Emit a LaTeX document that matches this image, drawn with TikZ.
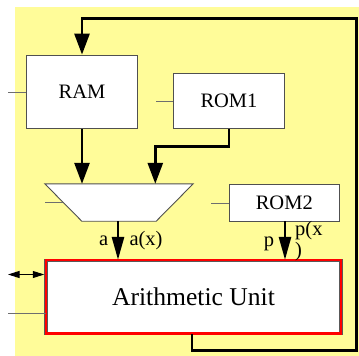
\documentclass[tikz,border=0pt]{standalone}
\usepackage{fontspec}
\setmainfont{Liberation Serif}
\usetikzlibrary{arrows.meta}
\definecolor{bgyellow}{RGB}{255,252,153}
\definecolor{boxgray}{RGB}{80,80,80}
\definecolor{stubgray}{RGB}{110,110,110}
\tikzset{
  unitbox/.style={draw=boxgray, line width=0.9pt, fill=white, inner sep=0pt,
    font=\fontsize{20.5}{21}\selectfont},
  aubox/.style={draw=gray!70!black, double=red, double distance=2.2pt, line width=0.45pt,
    fill=white, inner sep=0pt, font=\fontsize{25.6}{27}\selectfont},
  stub/.style={draw=stubgray, line width=0.9pt},
  bus/.style={draw=black, line width=2.7pt},
  bigarrow/.style={bus, -{Triangle[length=21pt,width=15pt]}},
  smallarrow/.style={bus, -{Triangle[length=23pt,width=12pt]}},
  lbl/.style={inner sep=0pt, font=\fontsize{20.5}{21}\selectfont},
}
\begin{document}
\begin{tikzpicture}[x=1pt,y=-1pt]
\useasboundingbox (0,0) rectangle (359,356);
\fill[bgyellow] (15,7) rectangle (359,356);

% nodes
\node[unitbox, minimum width=110.6pt, minimum height=73.7pt] (ram) at (82,91.9) {RAM};
\node[unitbox, minimum width=110.6pt, minimum height=55.4pt] (rom1) at (229,101) {ROM1};
\node[unitbox, minimum width=110pt, minimum height=36.7pt] (rom2) at (284.3,202.6) {ROM2};
\node[inner sep=0pt, minimum width=148pt, minimum height=37pt] (mux) at (119,202.5) {};
\draw[draw=boxgray, line width=0.9pt, fill=white]
  (mux.north west) -- (mux.north east) -- ([xshift=-37pt]mux.south east)
  -- ([xshift=37pt]mux.south west) -- cycle;
\node[aubox, minimum width=295pt, minimum height=73.5pt] (au) at (193.5,296.8) {Arithmetic Unit};

% stubs
\coordinate (ramin) at (8,92);
\coordinate (rom1in) at (156,101);
\coordinate (muxin) at (45,202);
\coordinate (muxsl) at (63,202);
\coordinate (rom2in) at (211,203);
\coordinate (auin) at (8,313.5);
\coordinate (auio) at (8,274.5);
\draw[stub] (ramin) -- (ram.west |- ramin);
\draw[stub] (rom1in) -- (rom1.west |- rom1in);
\draw[stub] (muxin) -- (muxsl);
\draw[stub] (rom2in) -- (rom2.west |- rom2in);
\draw[stub] (auin) -- (au.west |- auin);
\draw[line width=0.9pt, {Triangle[length=11.5pt,width=7pt]}-{Triangle[length=11.5pt,width=7pt]}]
  (auio) -- ([xshift=-1.5pt]au.west |- auio);

% buses
\coordinate (fbb) at (192,350.3);
\coordinate (fbr) at (356.6,350.3);
\coordinate (fbt) at (356.6,18.7);
\draw[bigarrow, line join=miter] ([xshift=-1.5pt]au.south) -- (fbb) -- (fbr) -- (fbt) -- (ram.north |- fbt) -- (ram.north);
\draw[bigarrow] (ram.south) -- (ram.south |- mux.north);
\coordinate (r1) at (155.3,146.6);
\draw[bigarrow, line join=miter] (rom1.south) |- (r1) -- (r1 |- mux.north);
\draw[smallarrow] ([xshift=-1pt]mux.south) -- ([xshift=-1pt]mux.south |- au.north);
\draw[smallarrow] ([xshift=0.7pt]rom2.south) -- ([xshift=0.7pt]rom2.south |- au.north);

% labels
\node[lbl, anchor=base east] (la) at (108.3,245) {a};
\node[lbl, anchor=base west] (lax) at (129.3,245) {a(x)};
\node[lbl, anchor=base east] (lp) at (274.3,246.5) {p};
\node[lbl, anchor=north west, align=left] (lpx) at (295,221.5) {p(x\\)};
\end{tikzpicture}
\end{document}
